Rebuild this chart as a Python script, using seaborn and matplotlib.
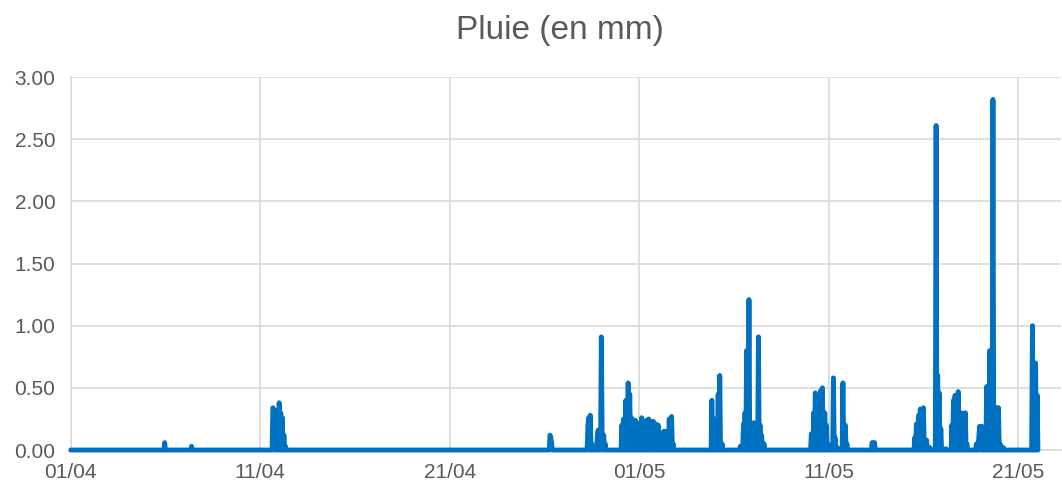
import numpy as np
import pandas as pd
import matplotlib
matplotlib.use("Agg")
import matplotlib.pyplot as plt
import matplotlib.dates as mdates
import seaborn as sns

# ---------------- data ----------------
series_start = "2023-04-01 00:00"
series_end = "2023-05-22 01:00"

rain_times = [
    "04-05 23", "04-07 09",
    "04-11 16", "04-11 17", "04-11 19", "04-11 22", "04-12 00", "04-12 02", "04-12 04", "04-12 06", "04-12 08",
    "04-26 07", "04-26 08", "04-26 09",
    "04-28 07", "04-28 08", "04-28 10", "04-28 12", "04-28 19", "04-28 20",
    "04-29 00", "04-29 01", "04-29 03", "04-29 05",
    "04-30 02", "04-30 04", "04-30 07", "04-30 10", "04-30 12", "04-30 14", "04-30 17", "04-30 19", "04-30 21",
    "05-01 00", "05-01 03", "05-01 05", "05-01 07", "05-01 09", "05-01 12", "05-01 15", "05-01 18", "05-01 21",
    "05-02 00", "05-02 03", "05-02 05", "05-02 07", "05-02 09", "05-02 11", "05-02 14", "05-02 17", "05-02 19",
    "05-04 20", "05-04 23", "05-05 01", "05-05 04", "05-05 06", "05-05 09",
    "05-06 08", "05-06 12", "05-06 14", "05-06 16", "05-06 19", "05-06 23",
    "05-07 01", "05-07 03", "05-07 05", "05-07 07", "05-07 09", "05-07 11", "05-07 14",
    "05-10 02", "05-10 05", "05-10 07", "05-10 09", "05-10 12", "05-10 14", "05-10 16", "05-10 19", "05-10 21", "05-10 23",
    "05-11 06", "05-11 08", "05-11 11", "05-11 18", "05-11 21", "05-11 23",
    "05-13 07", "05-13 10",
    "05-15 13", "05-15 15", "05-15 18", "05-15 20", "05-16 00", "05-16 02", "05-16 04", "05-16 08",
    "05-16 16", "05-16 18", "05-16 20", "05-16 22", "05-17 04",
    "05-17 12", "05-17 14", "05-17 16", "05-17 20", "05-17 22", "05-18 00", "05-18 05", "05-18 07",
    "05-18 19", "05-18 22", "05-18 23", "05-19 02", "05-19 05",
    "05-19 08", "05-19 10", "05-19 12", "05-19 16", "05-19 18", "05-19 21", "05-19 23", "05-20 01", "05-20 05",
    "05-21 18", "05-21 20", "05-21 22", "05-22 00",
]
rain_mm = [
    0.06, 0.03,
    0.34, 0.33, 0.30, 0.32, 0.38, 0.30, 0.26, 0.12, 0.03,
    0.12, 0.10, 0.06,
    0.20, 0.26, 0.28, 0.05, 0.12, 0.16,
    0.91, 0.15, 0.12, 0.05,
    0.20, 0.25, 0.40, 0.54, 0.45, 0.26, 0.24, 0.24, 0.22,
    0.15, 0.26, 0.20, 0.15, 0.24, 0.25, 0.23, 0.23, 0.21,
    0.20, 0.12, 0.07, 0.15, 0.15, 0.15, 0.25, 0.27, 0.05,
    0.40, 0.25, 0.05, 0.45, 0.60, 0.05,
    0.03, 0.21, 0.30, 0.80, 1.21, 0.20,
    0.22, 0.20, 0.15, 0.91, 0.20, 0.12, 0.05,
    0.13, 0.30, 0.46, 0.38, 0.42, 0.48, 0.50, 0.30, 0.20, 0.05,
    0.58, 0.10, 0.02, 0.54, 0.20, 0.05,
    0.06, 0.06,
    0.10, 0.21, 0.28, 0.33, 0.34, 0.08, 0.08, 0.02,
    2.61, 0.60, 0.46, 0.17, 0.01,
    0.20, 0.40, 0.44, 0.47, 0.15, 0.30, 0.30, 0.05,
    0.05, 0.10, 0.19, 0.19, 0.02,
    0.51, 0.52, 0.80, 2.82, 0.30, 0.34, 0.34, 0.05, 0.02,
    1.00, 0.70, 0.70, 0.44,
]

tick_dates = ["2023-04-01", "2023-04-11", "2023-04-21", "2023-05-01", "2023-05-11", "2023-05-21"]
tick_labels = ["01/04", "11/04", "21/04", "01/05", "11/05", "21/05"]
y_ticks = [0.0, 0.5, 1.0, 1.5, 2.0, 2.5, 3.0]
y_labels = ["0.00", "0.50", "1.00", "1.50", "2.00", "2.50", "3.00"]
title = "Pluie (en mm)"

# ---------------- build series ----------------
idx = pd.date_range(series_start, series_end, freq="h")
rain = pd.Series(0.0, index=idx)
for t, v in zip(rain_times, rain_mm):
    rain[pd.Timestamp("2023-" + t + ":00")] = v
df = pd.DataFrame({"time": idx, "mm": rain.values})

# ---------------- style ----------------
sns.set_theme(style="white")
plt.rcParams["font.family"] = ["Liberation Sans", "DejaVu Sans"]

grey_txt = "#595959"
grid_c = "#d9d9d9"
blue = "#0070C0"

fig = plt.figure(figsize=(10.62, 4.84), dpi=100)
ax = fig.add_axes([0.0666, 0.0702, 0.9325, 0.7707])

sns.lineplot(data=df, x="time", y="mm", ax=ax, color=blue, linewidth=3.5,
             solid_joinstyle="round", solid_capstyle="round")
for ln in ax.lines:
    ln.set_clip_on(False)
    ln.set_zorder(4)

x0 = pd.Timestamp(series_start)
ax.set_xlim(x0, x0 + pd.Timedelta(days=52.26))
ax.set_ylim(0, 3.0)

ax.set_xticks([pd.Timestamp(d) for d in tick_dates])
ax.set_xticklabels(tick_labels)
ax.set_yticks(y_ticks)
ax.set_yticklabels(y_labels)

ax.grid(True, color=grid_c, linewidth=1.2)
ax.set_axisbelow(True)
for s in ["top", "right"]:
    ax.spines[s].set_visible(False)
for s in ["left", "bottom"]:
    ax.spines[s].set_color(grid_c)
    ax.spines[s].set_linewidth(1.2)
    ax.spines[s].set_zorder(1)

ax.tick_params(axis="both", length=0, labelsize=15, labelcolor=grey_txt)
ax.tick_params(axis="y", pad=11)
ax.tick_params(axis="x", pad=9)
ax.set_xlabel("")
ax.set_ylabel("")

fig.text(560 / 1062, 1 - 30 / 484, title, ha="center", va="center",
         fontsize=24, color=grey_txt)

fig.savefig("out.png", dpi=100)
